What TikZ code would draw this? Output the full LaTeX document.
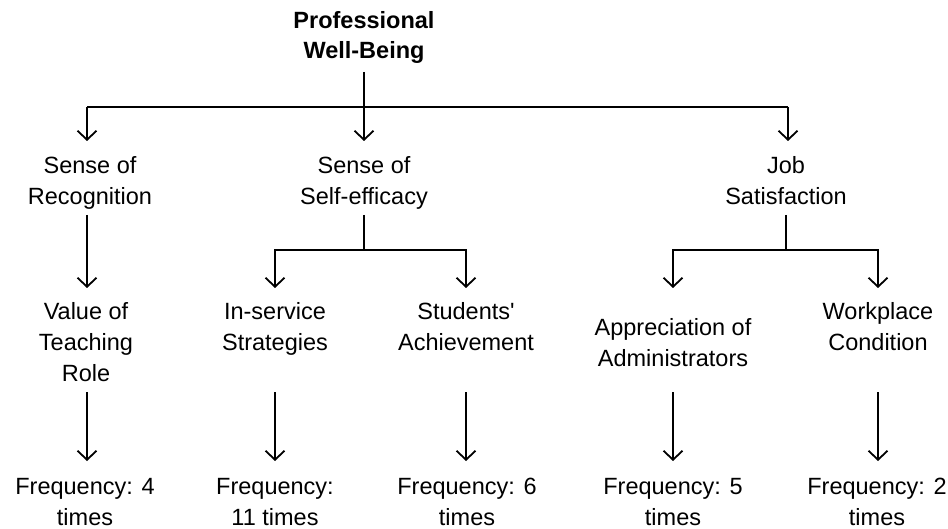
\documentclass[tikz,border=0pt]{standalone}
\usepackage{fontspec}
\setmainfont{Liberation Sans}[Ligatures=TeXOff]
\usetikzlibrary{arrows.meta}
\begin{document}
\begin{tikzpicture}[x=1pt,y=-1pt,
  lbl/.style={inner sep=0pt, align=center, font=\fontsize{23.5}{31}\selectfont,
    execute at begin node=\strut, execute at end node=\strut},
  ttl/.style={inner sep=0pt, align=center, font=\fontsize{23.5}{30}\selectfont\bfseries,
    execute at begin node=\strut, execute at end node=\strut},
  conn/.style={line width=1.8pt, black},
  arr/.style={conn, -{Straight Barb[length=9pt,width=19pt,line width=1.8pt]}}]
\useasboundingbox (0,0) rectangle (948,529);
% nodes
\node[ttl] (root) at (364,39) {Professional\\Well-Being};
\node[lbl] (rec) at (90,185.3) {Sense of\\Recognition};
\node[lbl] (self) at (364,185.3) {Sense of\\Self-efficacy};
\node[lbl] (job) at (786,185.3) {Job\\Satisfaction};
\node[lbl] (val) at (86,346.8) {Value of\\Teaching\\Role};
\node[lbl] (ins) at (275,331.3) {In-service\\Strategies};
\node[lbl] (stu) at (466,331.3) {Students'\\Achievement};
\node[lbl] (app) at (673,346.8) {Appreciation of\\Administrators};
\node[lbl] (wor) at (878,331.3) {Workplace\\Condition};
\node[lbl] (f1) at (85,506.5) {Frequency: 4\\times};
\node[lbl] (f2) at (275,506.5) {Frequency:\\11 times};
\node[lbl] (f3) at (467,506.5) {Frequency: 6\\times};
\node[lbl] (f4) at (673,506.5) {Frequency: 5\\times};
\node[lbl] (f5) at (877,506.5) {Frequency: 2\\times};
% level coordinates
\coordinate (y0) at (0,72);
\coordinate (ybar) at (0,107);
\coordinate (y1) at (0,141);
\coordinate (y2) at (0,215);
\coordinate (ybr) at (0,250);
\coordinate (y3) at (0,288);
\coordinate (y4) at (0,392);
\coordinate (y5) at (0,461);
% top level
\draw[conn] (87,107) coordinate (barL) -- (788,107) coordinate (barR);
\draw[arr] (root.south |- y0) -- (self.north |- y1);
\draw[arr] (barL) -- (barL |- y1);
\draw[arr] (barR) -- (barR |- y1);
% recognition
\draw[arr] (87,215) coordinate (recS) -- (recS |- y3);
% self-efficacy
\draw[conn] (self.south |- y2) -- (self.south |- ybr);
\draw[arr] (ins.north |- ybr) -- (stu.north |- ybr) -- (stu.north |- y3);
\draw[arr] (stu.north |- ybr) -- (ins.north |- ybr) -- (ins.north |- y3);
% job
\draw[conn] (job.south |- y2) -- (job.south |- ybr);
\draw[arr] (app.north |- ybr) -- (wor.north |- ybr) -- (wor.north |- y3);
\draw[arr] (wor.north |- ybr) -- (app.north |- ybr) -- (app.north |- y3);
% level 3 to frequency
\draw[arr] (recS |- y4) -- (recS |- y5);
\draw[arr] (ins.south |- y4) -- (f2.north |- y5);
\draw[arr] (stu.south |- y4) -- (stu.south |- y5);
\draw[arr] (app.south |- y4) -- (app.south |- y5);
\draw[arr] (wor.south |- y4) -- (wor.south |- y5);
\end{tikzpicture}
\end{document}
